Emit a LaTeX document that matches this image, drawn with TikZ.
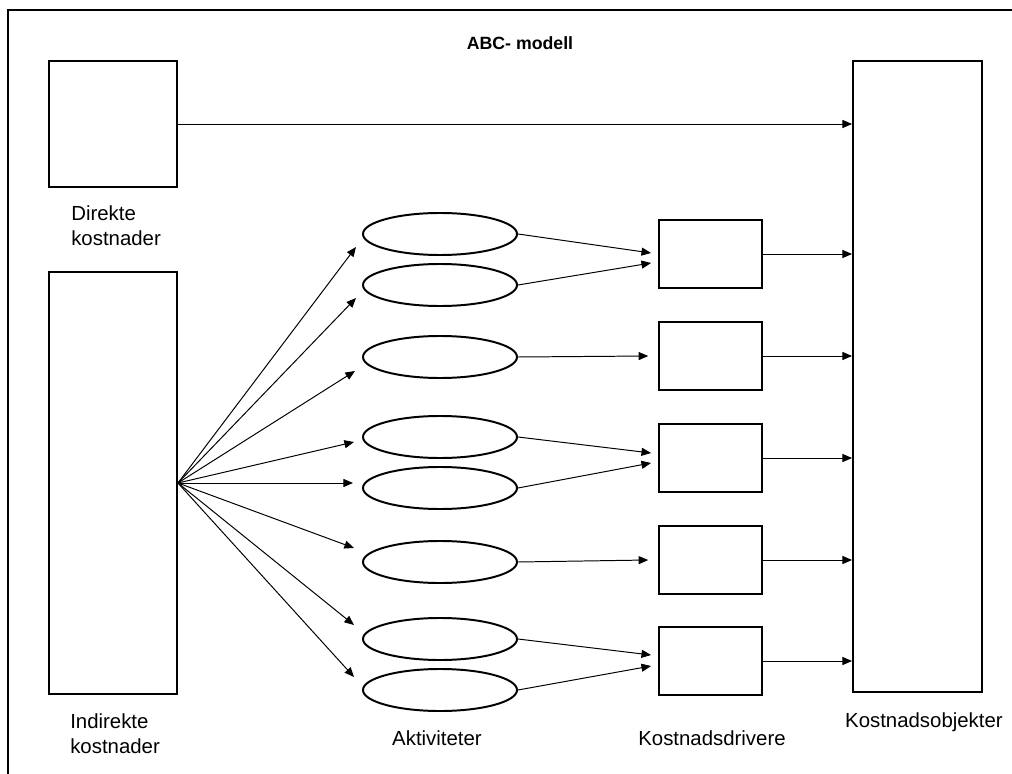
\documentclass[tikz,border=0pt]{standalone}
\usepackage{fontspec}
\setmainfont{Liberation Sans}
\usetikzlibrary{shapes.geometric,arrows.meta}

\begin{document}
\begin{tikzpicture}[x=0.025cm,y=-0.025cm,
  >={Triangle[length=0.24cm,width=0.2cm]},
  boks/.style={draw,line width=1.3pt,inner sep=0pt},
  driver/.style={boks,minimum width=2.575cm,minimum height=1.7cm},
  aktivitet/.style={ellipse,draw,line width=1.4pt,inner sep=0pt,
    minimum width=3.85cm,minimum height=1.05cm},
  pil/.style={->,line width=0.7pt},
  tekst/.style={inner sep=0pt,font=\fontsize{14.5pt}{17.7pt}\selectfont}]

\useasboundingbox (0,0) rectangle (1012,774);
\draw[line width=1.4pt] (8,774) -- (8,10) -- (1012,10);

\node[inner sep=0pt,anchor=base,font=\fontsize{12.6pt}{15pt}\selectfont\bfseries] (tittel) at (520,50) {ABC- modell};

% kostnader
\node[boks,minimum width=3.2cm,minimum height=3.15cm] (dk) at (113,124) {};
\node[boks,minimum width=3.2cm,minimum height=10.55cm] (ik) at (113,483) {};
\node[boks,minimum width=3.225cm,minimum height=15.775cm] (ko) at (917.5,376.5) {};

% aktiviteter
\node[aktivitet] (a1) at (440,234) {};
\node[aktivitet] (a2) at (440,285) {};
\node[aktivitet] (a3) at (440,357) {};
\node[aktivitet] (a4) at (440,437) {};
\node[aktivitet] (a5) at (440,488) {};
\node[aktivitet] (a6) at (440,562) {};
\node[aktivitet] (a7) at (440,639) {};
\node[aktivitet] (a8) at (440,690) {};

% kostnadsdrivere
\node[driver] (d1) at (710.5,254) {};
\node[driver] (d2) at (710.5,356) {};
\node[driver] (d3) at (710.5,458) {};
\node[driver] (d4) at (710.5,560) {};
\node[driver] (d5) at (710.5,661) {};

% tekster
\node[tekst,align=left,anchor=north west] (dktekst) at (71,205.3) {Direkte\\kostnader};
\node[tekst,align=left,anchor=north west] (iktekst) at (70,713.3) {Indirekte\\kostnader};
\node[tekst,anchor=base] (atekst) at (437,745) {Aktiviteter};
\node[tekst,anchor=base] (dtekst) at (712,745) {Kostnadsdrivere};
\node[tekst,anchor=base east] (kotekst) at (1003,727) {Kostnadsobjekter};

% piler
\draw[pil] (dk.east) -- (dk.east -| ko.west);

\draw[pil] (ik.east) -- ([shift={(-6,13)}]a1.west);
\draw[pil] (ik.east) -- ([shift={(-6,13)}]a2.west);
\draw[pil] (ik.east) -- ([shift={(-7,14)}]a3.west);
\draw[pil] (ik.east) -- ([shift={(-8,5)}]a4.west);
\draw[pil] (ik.east) -- ([shift={(-9,-5)}]a5.west);
\draw[pil] (ik.east) -- ([shift={(-8,-14)}]a6.west);
\draw[pil] (ik.east) -- ([shift={(-8,-14)}]a7.west);
\draw[pil] (ik.east) -- ([shift={(-8,-13)}]a8.west);

\draw[pil] (a1.east) -- ([shift={(-7,-1)}]d1.west);
\draw[pil] (a2.east) -- ([shift={(-7,9)}]d1.west);
\draw[pil] (a3.east) -- ([xshift=-7]d2.west);
\draw[pil] (a4.east) -- ([shift={(-7,-5)}]d3.west);
\draw[pil] (a5.east) -- ([shift={(-7,5)}]d3.west);
\draw[pil] (a6.east) -- ([xshift=-7]d4.west);
\draw[pil] (a7.east) -- ([shift={(-7,-6)}]d5.west);
\draw[pil] (a8.east) -- ([shift={(-7,5)}]d5.west);

\draw[pil] (d1.east) -- (d1.east -| ko.west);
\draw[pil] (d2.east) -- (d2.east -| ko.west);
\draw[pil] (d3.east) -- (d3.east -| ko.west);
\draw[pil] (d4.east) -- (d4.east -| ko.west);
\draw[pil] (d5.east) -- (d5.east -| ko.west);

\end{tikzpicture}
\end{document}
